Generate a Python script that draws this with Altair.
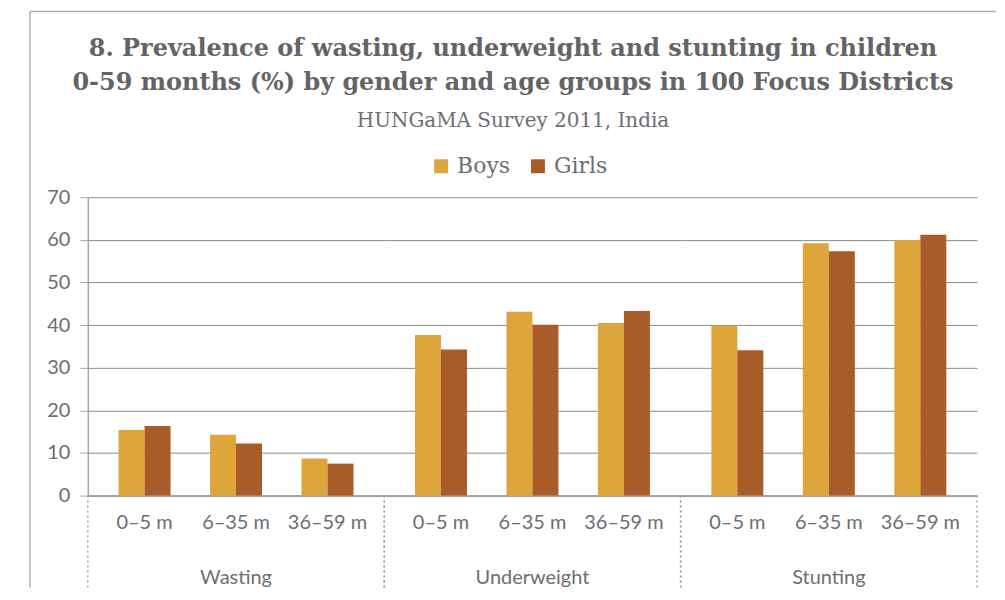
import altair as alt
import pandas as pd

groups = ["Wasting", "Underweight", "Stunting"]
ages = ["0–5 m", "6–35 m", "36–59 m"]
genders = ["Boys", "Girls"]
boys = [15.4, 14.3, 8.7, 37.7, 43.1, 40.5, 39.9, 59.2, 59.9]
girls = [16.3, 12.2, 7.5, 34.3, 40.1, 43.3, 34.1, 57.3, 61.2]
colors = ["#DEA63A", "#A85C28"]
y_ticks = [0, 10, 20, 30, 40, 50, 60, 70]
title_lines = [
    "8. Prevalence of wasting, underweight and stunting in children",
    "0-59 months (%) by gender and age groups in 100 Focus Districts",
]
subtitle = "HUNGaMA Survey 2011, India"

rows = []
for gi, g in enumerate(groups):
    for ai, a in enumerate(ages):
        i = gi * 3 + ai
        rows.append({"group": g, "age": a, "gender": "Boys", "value": boys[i]})
        rows.append({"group": g, "age": a, "gender": "Girls", "value": girls[i]})
df = pd.DataFrame(rows)

CW, H = 297, 299
TEXT = "#6d6e71"
GRID = "#8c8c8c"
AXC = "#a6a6a6"
SANS = "Lato"
SERIF = "DejaVu Serif"

x = alt.X(
    "age:N", sort=ages,
    scale=alt.Scale(paddingInner=0, paddingOuter=0.12),
    axis=alt.Axis(title=None, labelAngle=0, ticks=False, domain=True, domainColor=AXC,
                  domainWidth=1.5, labelFont=SANS, labelFontSize=20, labelColor=TEXT,
                  labelPadding=17, grid=False),
)
xo = alt.XOffset("gender:N", sort=genders, scale=alt.Scale(paddingInner=0, paddingOuter=0.76))
y = alt.Y(
    "value:Q", scale=alt.Scale(domain=[0, 70], nice=False),
    axis=alt.Axis(title=None, values=y_ticks, grid=True, gridColor=GRID, gridWidth=1,
                  domainColor=AXC, domainWidth=1.5, tickColor=AXC, tickSize=8,
                  labelFont=SANS, labelFontSize=20, labelColor=TEXT, labelPadding=10),
)
color = alt.Color(
    "gender:N", sort=genders, scale=alt.Scale(domain=genders, range=colors),
    legend=alt.Legend(title=None, orient="none", direction="horizontal", legendX=343, legendY=-42,
                      symbolType="square", symbolSize=196, symbolStrokeWidth=0,
                      labelFont=SERIF, labelFontSize=22, labelColor=TEXT, labelOffset=5,
                      columnPadding=16, padding=0),
)

bars = alt.Chart().mark_bar().encode(x=x, xOffset=xo, y=y, color=color)

one_row = (alt.datum.age == ages[0]) & (alt.datum.gender == "Boys")
first_cell = one_row & (alt.datum.group == groups[0])

sep_l = alt.Chart().transform_filter(one_row).mark_rule(
    color=AXC, strokeDash=[2, 3], strokeWidth=1.5
).encode(x=alt.value(0), y=alt.value(H), y2=alt.value(H + 92))
sep_r = alt.Chart().transform_filter(one_row).mark_rule(
    color=AXC, strokeDash=[2, 3], strokeWidth=1.5
).encode(x=alt.value(CW), y=alt.value(H), y2=alt.value(H + 92))

frame_l = alt.Chart().transform_filter(first_cell).mark_rule(
    color="#b0b0b0", strokeWidth=1.5
).encode(x=alt.value(-58), y=alt.value(-186), y2=alt.value(H + 92))
frame_t = alt.Chart().transform_filter(first_cell).mark_rule(
    color="#b0b0b0", strokeWidth=1.5
).encode(x=alt.value(-58), x2=alt.value(910), y=alt.value(-186))

chart = alt.layer(bars, sep_l, sep_r, frame_l, frame_t, data=df).properties(
    width=CW, height=H
).facet(
    column=alt.Column("group:N", sort=groups,
                      header=alt.Header(title=None, orient="bottom", labelFont=SANS,
                                        labelFontSize=20, labelColor=TEXT, labelPadding=36)),
    spacing=0,
    bounds="flush",
    title=alt.TitleParams(
        text=title_lines, subtitle=subtitle, anchor="middle", font=SERIF, fontSize=24,
        fontWeight="bold", color="#636466", lineHeight=34, subtitleFont=SERIF,
        subtitleFontSize=20, subtitleColor=TEXT, subtitlePadding=16, offset=-120,
    ),
).properties(
    padding={"left": 21, "top": 2, "right": 0, "bottom": 0}
).configure_view(stroke=None)

chart.save("out.html", embed_options={"renderer": "svg", "actions": False})
